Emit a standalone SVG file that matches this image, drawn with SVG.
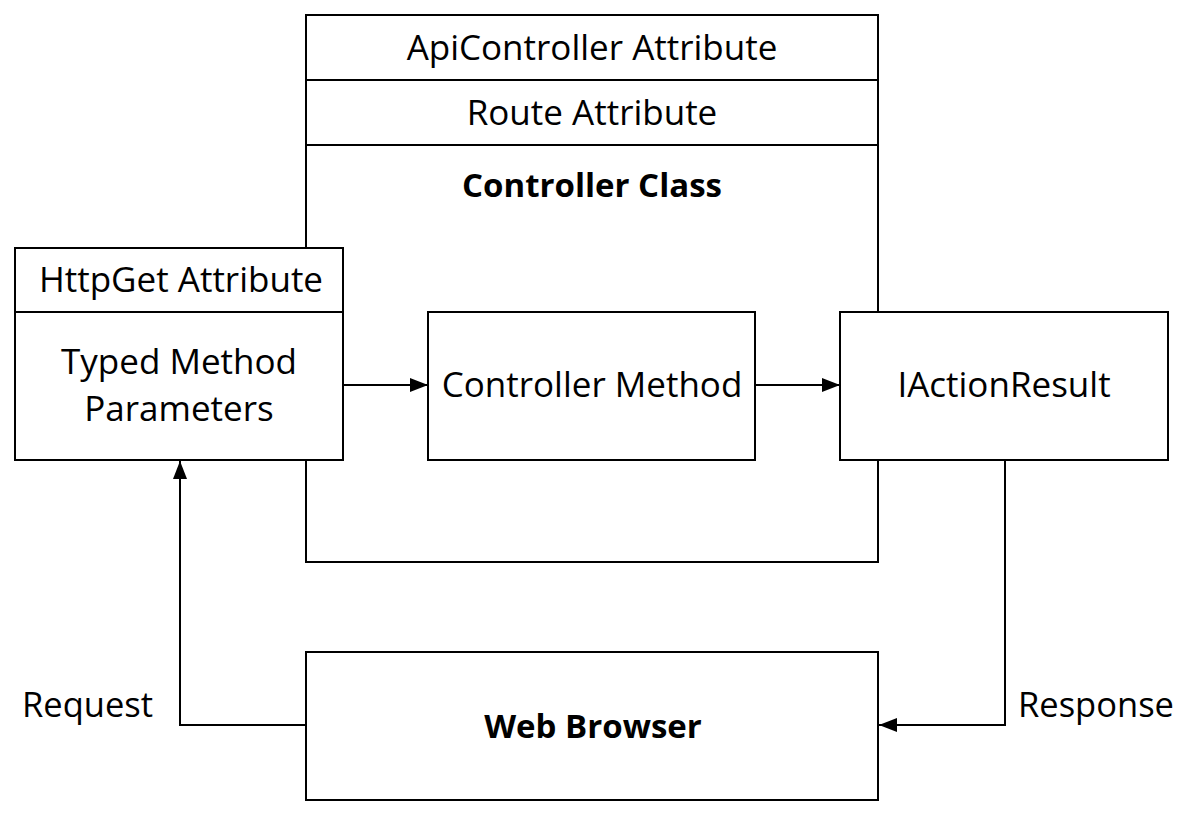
<svg xmlns="http://www.w3.org/2000/svg" width="1185" height="813" viewBox="0 0 1185 813">
<defs>
<style>
.box{fill:#fff;stroke:#000;stroke-width:2}
.ln{fill:none;stroke:#000;stroke-width:2}
.t{font-family:"Open Sans","Liberation Sans",sans-serif;font-size:35px;fill:#000;text-anchor:middle}
.b{font-weight:bold;font-size:33px}
.lbl{font-family:"Open Sans","Liberation Sans",sans-serif;font-size:34.5px;fill:#000}
</style>
<marker id="arr" markerWidth="20" markerHeight="14" refX="18" refY="7" orient="auto" markerUnits="userSpaceOnUse">
<path d="M0,0 L18,7 L0,14 Z" fill="#000"/>
</marker>
</defs>
<rect width="1185" height="813" fill="#fff"/>
<g id="controller-class">
<rect class="box" x="306" y="15" width="572" height="547"/>
<line class="ln" x1="306" y1="80" x2="878" y2="80"/>
<line class="ln" x1="306" y1="145" x2="878" y2="145"/>
<text class="t" x="592" y="60">ApiController Attribute</text>
<text class="t" x="592" y="125">Route Attribute</text>
<text class="t b" x="592" y="197">Controller Class</text>
</g>
<g id="web-browser">
<rect class="box" x="306" y="652" width="572" height="148"/>
<text class="t b" x="593" y="738">Web Browser</text>
</g>
<g id="connectors">
<line class="ln" x1="343" y1="385" x2="428" y2="385" marker-end="url(#arr)"/>
<line class="ln" x1="755" y1="385" x2="840" y2="385" marker-end="url(#arr)"/>
<polyline class="ln" points="306,725 180,725 180,461" marker-end="url(#arr)"/>
<polyline class="ln" points="1005,460 1005,725 879,725" marker-end="url(#arr)"/>
</g>
<g id="httpget">
<rect class="box" x="15" y="248" width="328" height="212"/>
<line class="ln" x1="15" y1="312" x2="343" y2="312"/>
<text class="t" x="181" y="292">HttpGet Attribute</text>
<text class="t" x="179" y="374">Typed Method</text>
<text class="t" x="179" y="421">Parameters</text>
</g>
<g id="controller-method">
<rect class="box" x="428" y="312" width="327" height="148"/>
<text class="t" x="592" y="397">Controller Method</text>
</g>
<g id="iactionresult">
<rect class="box" x="840" y="312" width="328" height="148"/>
<text class="t" x="1004" y="397">IActionResult</text>
</g>
<g id="labels">
<text class="lbl" x="22" y="717">Request</text>
<text class="lbl" x="1018" y="717">Response</text>
</g>
</svg>
